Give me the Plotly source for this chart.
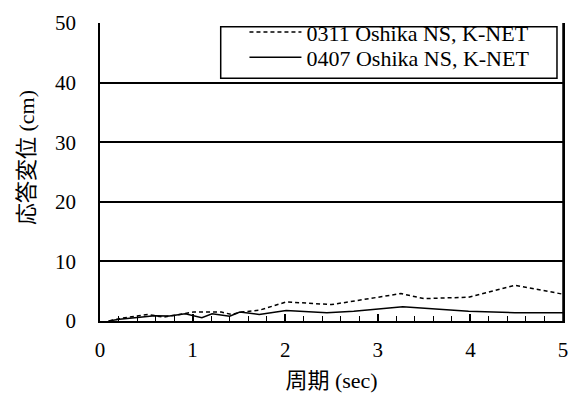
import plotly.graph_objects as go

period_0311 = [0.10, 0.21, 0.52, 0.68, 0.82, 1.01, 1.31, 1.42, 1.53, 1.72, 2.01, 2.50, 3.25, 3.50, 3.98, 4.48, 5.00]
disp_0311 = [0.0, 0.4, 1.1, 0.65, 1.0, 1.5, 1.5, 1.1, 1.5, 1.8, 3.2, 2.75, 4.6, 3.75, 4.0, 6.0, 4.5]

period_0407 = [0.09, 0.21, 0.43, 0.59, 0.75, 0.92, 1.10, 1.21, 1.40, 1.51, 1.72, 2.01, 2.45, 2.74, 3.27, 3.98, 4.48, 5.00]
disp_0407 = [0.0, 0.3, 0.65, 0.9, 0.85, 1.2, 0.55, 1.2, 0.8, 1.5, 1.1, 1.75, 1.4, 1.65, 2.4, 1.65, 1.4, 1.4]

name_0311 = "0311 Oshika NS, K-NET"
name_0407 = "0407 Oshika NS, K-NET"
x_ticks = [0, 1, 2, 3, 4, 5]
y_ticks = [0, 10, 20, 30, 40, 50]
x_title = "周期 (sec)"
y_title = "応答変位 (cm)"

FONT = "Liberation Serif"
CJK_FONT = "Liberation Serif, Noto Sans CJK JP"
FS = 21
LFS = 22

fig = go.Figure()
fig.add_trace(go.Scatter(x=period_0311, y=disp_0311, mode="lines", name=name_0311,
                         legend="legend",
                         line=dict(color="black", width=1.5, dash="4px,3px")))
fig.add_trace(go.Scatter(x=period_0407, y=disp_0407, mode="lines", name=name_0407,
                         legend="legend2",
                         line=dict(color="black", width=1.5)))

leg_common = dict(xanchor="left", yanchor="top", borderwidth=0, bgcolor="rgba(0,0,0,0)",
                  font=dict(size=LFS, family=FONT), itemwidth=52)

fig.update_layout(
    width=579, height=408,
    margin=dict(l=100, r=11, t=18, b=87),
    paper_bgcolor="white", plot_bgcolor="white",
    font=dict(family=FONT, size=FS, color="black"),
    legend=dict(x=0.312, y=1.0396, **leg_common),
    legend2=dict(x=0.312, y=0.9548, **leg_common),
    xaxis=dict(range=[0, 5], tickvals=x_ticks, showgrid=False, zeroline=False,
               showline=True, linecolor="black", linewidth=1.5, mirror=False,
               ticks="inside", ticklen=7, tickcolor="black", tickwidth=1.5,
               ticklabelstandoff=9, tickfont=dict(family=FONT, size=FS),
               minor=dict(dtick=0.2, ticks="inside", ticklen=5, tickcolor="black", tickwidth=1.2),
               title=dict(text=x_title, standoff=12, font=dict(size=LFS, family=CJK_FONT))),
    yaxis=dict(range=[0, 50], tickvals=y_ticks, showgrid=True, gridcolor="black", gridwidth=1.5,
               zeroline=False, showline=True, linecolor="black", linewidth=1.5, mirror=True,
               ticks="", ticklabelstandoff=18, tickfont=dict(family=FONT, size=FS)),
    showlegend=True,
)
fig.add_annotation(text=y_title, xref="paper", yref="paper", x=-0.16, y=0.55,
                   textangle=-90, showarrow=False, font=dict(size=LFS, family=CJK_FONT),
                   xanchor="center", yanchor="middle")
fig.add_shape(type="rect", xref="paper", yref="paper", x0=0.2607, x1=0.987, y0=0.815, y1=0.987,
              line=dict(color="black", width=1.5), fillcolor="white", layer="above")
fig.add_shape(type="line", xref="paper", yref="paper", x0=1, x1=1, y0=0, y1=1,
              line=dict(color="black", width=1.5))

fig.write_html("out.html")
